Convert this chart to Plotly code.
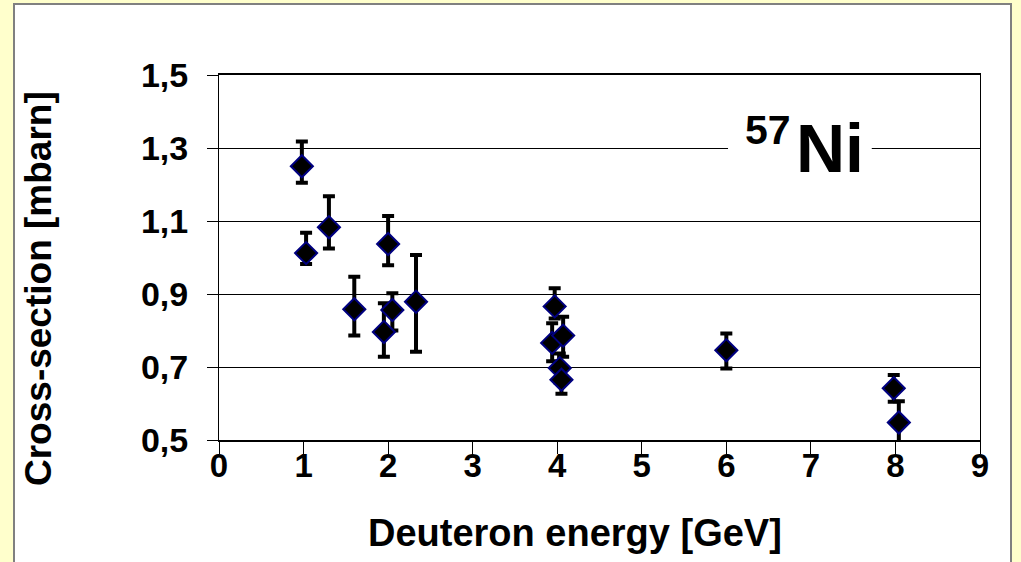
import plotly.graph_objects as go

# Data
energy = [0.98, 1.03, 1.30, 2.00, 1.60, 1.95, 2.05, 2.33, 3.97, 3.94, 4.07, 4.03, 4.05, 6.00, 7.98, 8.04]
xsec = [1.250, 1.012, 1.083, 1.037, 0.858, 0.796, 0.856, 0.879, 0.866, 0.766, 0.786, 0.697, 0.665, 0.746, 0.642, 0.548]
err_plus = [0.068, 0.056, 0.085, 0.077, 0.089, 0.079, 0.046, 0.128, 0.050, 0.054, 0.052, 0.040, 0.038, 0.046, 0.036, 0.058]
err_minus = [0.045, 0.030, 0.058, 0.058, 0.072, 0.068, 0.056, 0.137, 0.033, 0.050, 0.058, 0.040, 0.038, 0.050, 0.037, 0.058]

x_ticks = [0, 1, 2, 3, 4, 5, 6, 7, 8, 9]
y_ticks = [0.5, 0.7, 0.9, 1.1, 1.3, 1.5]

FONT = "Arial, Liberation Sans, sans-serif"

fig = go.Figure()
fig.add_trace(go.Scatter(
    x=energy, y=xsec, mode="markers",
    marker=dict(symbol="diamond", size=17, color="black",
                line=dict(color="#000080", width=2)),
    error_y=dict(type="data", symmetric=False, array=err_plus, arrayminus=err_minus,
                 color="black", thickness=4, width=6),
    showlegend=False, cliponaxis=True,
))

W, H = 1021, 562
L, R, T, B = 219, 41, 75, 122
pw, ph = W - L - R, H - T - B

def px(x):
    return (x - L) / pw

def py(y):
    return (H - B - y) / ph

shapes = [
    # outer white chart box
    dict(type="rect", xref="paper", yref="paper", x0=px(14), x1=px(1011), y0=py(600), y1=py(4),
         fillcolor="white", line=dict(color="#808080", width=2), layer="below"),
    # white box behind the 57Ni label
    dict(type="rect", xref="x", yref="y", x0=6.02, x1=7.72, y0=1.27, y1=1.33,
         fillcolor="white", line=dict(width=0), layer="between"),
]

annotations = [
    dict(text="<b>Ni</b>", x=7.23, y=1.30, xref="x", yref="y", showarrow=False,
         font=dict(family=FONT, size=68, color="black"), xanchor="center", yanchor="middle"),
    dict(text="<b>57</b>", x=6.49, y=1.35, xref="x", yref="y", showarrow=False,
         font=dict(family=FONT, size=41, color="black"), xanchor="center", yanchor="middle"),
    dict(text="<b>Deuteron energy [GeV]</b>", x=px(575), y=py(533), xref="paper", yref="paper",
         showarrow=False, font=dict(family=FONT, size=38, color="black"),
         xanchor="center", yanchor="middle"),
    dict(text="<b>Cross-section [mbarn]</b>", x=px(38), y=py(289), xref="paper", yref="paper",
         showarrow=False, textangle=-90, font=dict(family=FONT, size=37, color="black"),
         xanchor="center", yanchor="middle"),
]

fig.update_layout(
    width=W, height=H,
    margin=dict(l=L, r=R, t=T, b=B),
    paper_bgcolor="#FFFFCC",
    plot_bgcolor="rgba(0,0,0,0)",
    separators=", ",
    shapes=shapes,
    annotations=annotations,
    xaxis=dict(range=[0, 9], tickvals=x_ticks, ticktext=[f"<b>{v}</b>" for v in x_ticks],
               showgrid=False, zeroline=False,
               showline=True, linecolor="black", linewidth=2, mirror=True,
               ticks="outside", ticklen=12, tickwidth=1, tickcolor="black",
               tickfont=dict(family=FONT, size=33, color="black"),
               ticklabelstandoff=-17),
    yaxis=dict(range=[0.5, 1.5], tickvals=y_ticks,
               ticktext=["<b>" + f"{v:.1f}".replace(".", ",") + "</b>" for v in y_ticks],
               showgrid=True, gridcolor="black", gridwidth=1, zeroline=False,
               showline=True, linecolor="black", linewidth=1, mirror=True,
               ticks="outside", ticklen=11, tickwidth=1, tickcolor="black",
               tickfont=dict(family=FONT, size=34, color="black"),
               ticklabelstandoff=12),
)

fig.write_html("out.html")
